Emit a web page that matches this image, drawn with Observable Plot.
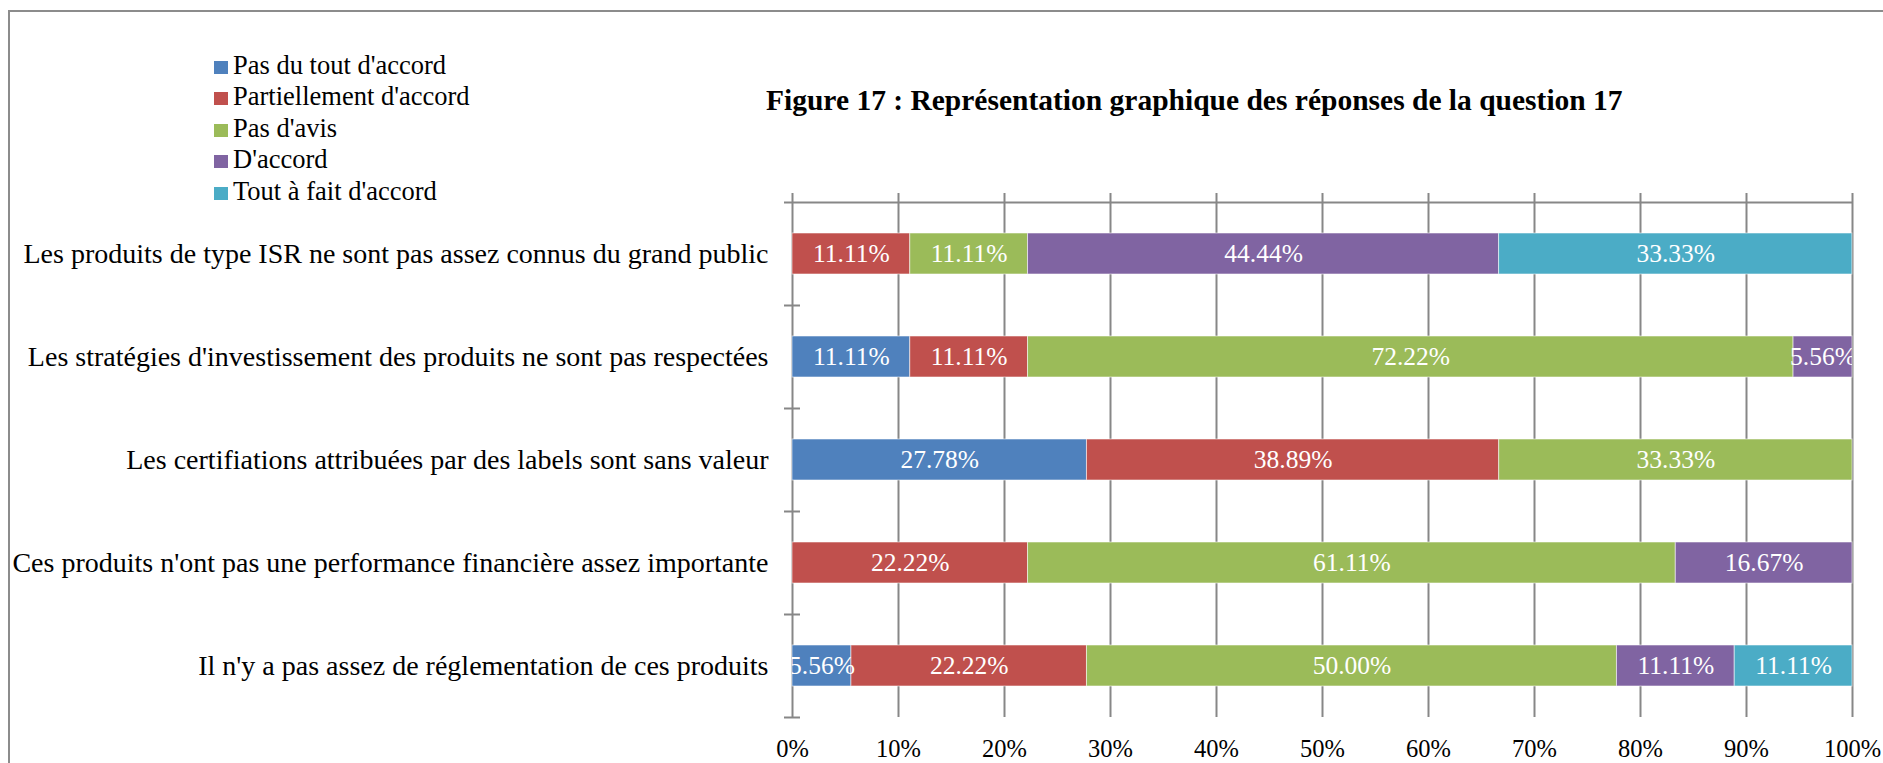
<!DOCTYPE html>
<html>
<head>
<meta charset="utf-8">
<script src="https://cdn.jsdelivr.net/npm/d3@7"></script>
<script src="https://cdn.jsdelivr.net/npm/@observablehq/plot@0.6"></script>
<style>
html, body { margin: 0; padding: 0; background: #fff; overflow: hidden; width: 1883px; height: 763px; }
#wrap { position: relative; width: 1883px; height: 763px; font-family: "Liberation Serif", "Times New Roman", serif; color: #000; }
#frame { position: absolute; left: 8px; top: 10px; width: 1900px; height: 800px; border-left: 2px solid #8c8c8c; border-top: 2px solid #8c8c8c; }
#chart { position: absolute; left: 0; top: 0; }
#title { position: absolute; left: 766px; top: 86px; font-family: "Liberation Serif", "Times New Roman", serif; font-weight: bold; font-size: 29.5px; line-height: 29px; white-space: nowrap; }
#legend { position: absolute; left: 214px; top: 49.5px; font-family: "Liberation Serif", "Times New Roman", serif; font-size: 26.5px; }
#legend div { line-height: 31.5px; height: 31.5px; white-space: nowrap; }
#legend span.sw { display: inline-block; width: 14px; height: 13px; margin-right: 5px; vertical-align: baseline; }
</style>
</head>
<body>
<div id="wrap">
  <div id="frame"></div>
  <div id="chart"></div>
  <div id="title"></div>
  <div id="legend"></div>
</div>
<script>
const questions = [
  "Les produits de type ISR ne sont pas assez connus du grand public",
  "Les stratégies d'investissement des produits ne sont pas respectées",
  "Les certifiations attribuées par des labels sont sans valeur",
  "Ces produits n'ont pas une performance financière assez importante",
  "Il n'y a pas assez de réglementation de ces produits"
];
const responses = ["Pas du tout d'accord", "Partiellement d'accord", "Pas d'avis", "D'accord", "Tout à fait d'accord"];
const colors = ["#4F81BD", "#C0504D", "#9BBB59", "#8064A2", "#4BACC6"];

const pasDuTout     = [0,     11.11, 27.78, 0,     5.56];
const partiellement = [11.11, 11.11, 38.89, 22.22, 22.22];
const pasDAvis      = [11.11, 72.22, 33.33, 61.11, 50.00];
const dAccord       = [44.44, 5.56,  0,     16.67, 11.11];
const toutAFait     = [33.33, 0,     0,     0,     11.11];

const xTicks = [0, 10, 20, 30, 40, 50, 60, 70, 80, 90, 100];
const titleText = "Figure 17 : Représentation graphique des réponses de la question 17";

const series = [pasDuTout, partiellement, pasDAvis, dAccord, toutAFait];
const data = [];
questions.forEach((q, i) => {
  responses.forEach((r, j) => {
    const v = series[j][i];
    if (v > 0) data.push({q, resp: r, value: v});
  });
});

const gridColor = "#878787";
const half = 51.5; // half of band step

const chart = Plot.plot({
  width: 1883,
  height: 763,
  marginLeft: 792,
  marginRight: 31,
  marginTop: 202,
  marginBottom: 46,
  style: {fontFamily: "'Liberation Serif', 'Times New Roman', serif", fontSize: "26px", color: "#000", background: "transparent", overflow: "visible"},
  x: {domain: [0, 100], label: null},
  y: {domain: questions, paddingInner: 0.6, paddingOuter: 0.3, label: null},
  color: {domain: responses, range: colors},
  marks: [
    Plot.ruleX(xTicks, {stroke: gridColor, strokeWidth: 2, insetTop: -9}),
    Plot.ruleY([questions[0]], {x1: 0, x2: 100, dy: -half, insetLeft: -8, stroke: gridColor, strokeWidth: 2}),
    Plot.ruleY(questions.slice(1), {x1: 0, x2: 0, dy: -half, insetLeft: -8, insetRight: -8, stroke: gridColor, strokeWidth: 2}),
    Plot.ruleY([questions[questions.length - 1]], {x1: 0, x2: 0, dy: half, insetLeft: -8, insetRight: -8, stroke: gridColor, strokeWidth: 2}),
    Plot.barX(data, Plot.stackX({x: "value", y: "q", fill: "resp", stroke: "#fff", strokeOpacity: 0.55, strokeWidth: 1})),
    Plot.text(data, Plot.stackX({x: "value", y: "q", z: "resp", text: d => d.value.toFixed(2) + "%", fill: "white", fontSize: 25.5, clip: true})),
    Plot.axisX(xTicks, {anchor: "bottom", tickSize: 0, tickPadding: 22, fontSize: 24.5, label: null, tickFormat: d => d + "%"}),
    Plot.axisY({anchor: "left", tickSize: 0, tickPadding: 24, fontSize: 28, label: null})
  ]
});
document.getElementById("chart").appendChild(chart);

document.getElementById("title").textContent = titleText;
const legend = document.getElementById("legend");
responses.forEach((r, j) => {
  const row = document.createElement("div");
  const sw = document.createElement("span");
  sw.className = "sw";
  sw.style.background = colors[j];
  row.appendChild(sw);
  row.appendChild(document.createTextNode(r));
  legend.appendChild(row);
});
</script>
</body>
</html>
